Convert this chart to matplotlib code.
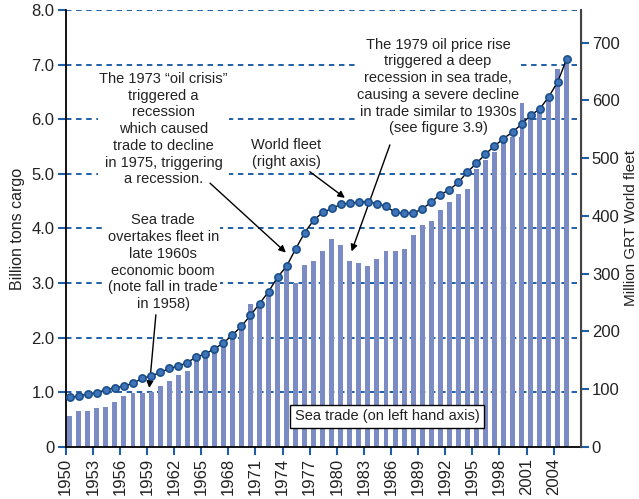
import matplotlib
matplotlib.use('Agg')
import matplotlib.pyplot as plt
import numpy as np

plt.rcParams['font.family'] = ['Liberation Sans', 'DejaVu Sans']

years = list(range(1950, 2006))

# sea trade, billion tons (left axis)
sea_trade = [0.56, 0.65, 0.65, 0.71, 0.74, 0.83, 0.93, 0.99, 0.99, 1.01,
             1.12, 1.21, 1.31, 1.39, 1.64, 1.72, 1.84, 1.95, 2.09, 2.22,
             2.62, 2.66, 2.88, 3.07, 3.33, 3.00, 3.33, 3.41, 3.58, 3.80,
             3.69, 3.41, 3.36, 3.31, 3.44, 3.59, 3.58, 3.62, 3.88, 4.06,
             4.13, 4.34, 4.49, 4.64, 4.73, 5.09, 5.25, 5.40, 5.61, 5.90,
             6.29, 6.11, 6.20, 6.38, 6.92, 7.11]

# world fleet, million GRT (right axis)
world_fleet = [86, 88, 92, 94, 99, 102, 106, 110, 119, 123,
               129, 136, 140, 146, 156, 161, 170, 180, 194, 209,
               228, 248, 269, 294, 313, 343, 371, 393, 406, 413,
               420, 422, 424, 425, 421, 417, 406, 405, 405, 412,
               424, 437, 445, 458, 476, 491, 507, 521, 534, 545,
               559, 574, 585, 606, 632, 672]

xtick_years = list(range(1950, 2005, 3))
left_ticks = [0, 1, 2, 3, 4, 5, 6, 7, 8]
right_ticks = [0, 100, 200, 300, 400, 500, 600, 700]

bar_color = '#7b8cc4'
blue = '#1f5fa8'
dark = '#222222'

fig = plt.figure(figsize=(6.39, 4.99), dpi=100)
ax1 = fig.add_axes([0.1028, 0.1042, 0.8060, 0.8758])
ax2 = ax1.twinx()

xpos = np.array(years) + 0.45
ax1.bar(xpos, sea_trade, width=0.55, color=bar_color, zorder=2)

ax1.set_xlim(1950, 2007)
ax1.set_ylim(0, 8)
ax1.set_yticks(left_ticks)
ax1.set_yticklabels(['0'] + ['%.1f' % v for v in left_ticks[1:]])
ax1.set_xticks(xtick_years)
ax1.set_xticklabels([str(y) for y in xtick_years], rotation=90)
for v in left_ticks[1:]:
    ax1.axhline(v, color=blue, lw=1.4, ls=(0, (2.8, 2.4)), zorder=1)

ax2.plot(xpos, world_fleet, color='black', lw=1, marker='o', markersize=5.2,
         markerfacecolor='#3f74b8', markeredgecolor='#1b4f8c', markeredgewidth=1.2,
         zorder=5)
ax2.set_ylim(0, 756.6)
ax2.set_yticks(right_ticks)

for ax in (ax1, ax2):
    ax.spines['top'].set_visible(False)
    ax.tick_params(axis='both', direction='out', length=6, width=1.5,
                   colors=blue, labelcolor=dark, labelsize=12, pad=2)
ax1.spines['left'].set_linewidth(1.3)
ax1.spines['bottom'].set_linewidth(1.3)
ax2.spines['right'].set_color('#444444')
ax2.spines['right'].set_linewidth(1.5)
ax2.spines['left'].set_visible(False)
ax2.spines['bottom'].set_visible(False)

ax1.set_ylabel('Billion tons cargo', fontsize=11.5, color=dark, labelpad=5)
ax2.set_ylabel('Million GRT World fleet', fontsize=11, color=dark, labelpad=3)

white = dict(facecolor='white', edgecolor='none', pad=1)
txt_kw = dict(ha='center', va='center', fontsize=10.5, color=dark,
              linespacing=1.25, bbox=white, zorder=6)

ax1.text(1991.2, 6.60, 'The 1979 oil price rise\ntriggered a deep\nrecession in sea trade,\n'
         'causing a severe decline\nin trade similar to 1930s\n(see figure 3.9)', **txt_kw)
ax1.text(1960.85, 5.82, 'The 1973 \u201coil crisis\u201d\ntriggered a\nrecession\nwhich caused\n'
         'trade to decline\nin 1975, triggering\na recession.', **txt_kw)
ax1.text(1974.4, 5.37, 'World fleet\n(right axis)', **txt_kw)
ax1.text(1960.8, 3.38, 'Sea trade\novertakes fleet in\nlate 1960s\neconomic boom\n'
         '(note fall in trade\nin 1958)', **txt_kw)
ax1.text(1985.55, 0.56, 'Sea trade (on left hand axis)', ha='center', va='center',
         fontsize=10.5, color=dark, zorder=6,
         bbox=dict(facecolor='white', edgecolor='black', lw=1, pad=3))

arrow_kw = dict(arrowstyle='-|>', color='black', lw=1, mutation_scale=10,
                shrinkA=0, shrinkB=0)
arrows = [((1959.98, 2.42), (1959.25, 1.08)),
          ((1965.97, 4.83), (1974.37, 3.56)),
          ((1977.02, 5.04), (1980.9, 4.56)),
          ((1985.88, 5.53), (1981.64, 3.58))]
for start, tip in arrows:
    ax1.annotate('', xy=tip, xytext=start, arrowprops=arrow_kw, zorder=7)

fig.savefig('out.png', dpi=100)
